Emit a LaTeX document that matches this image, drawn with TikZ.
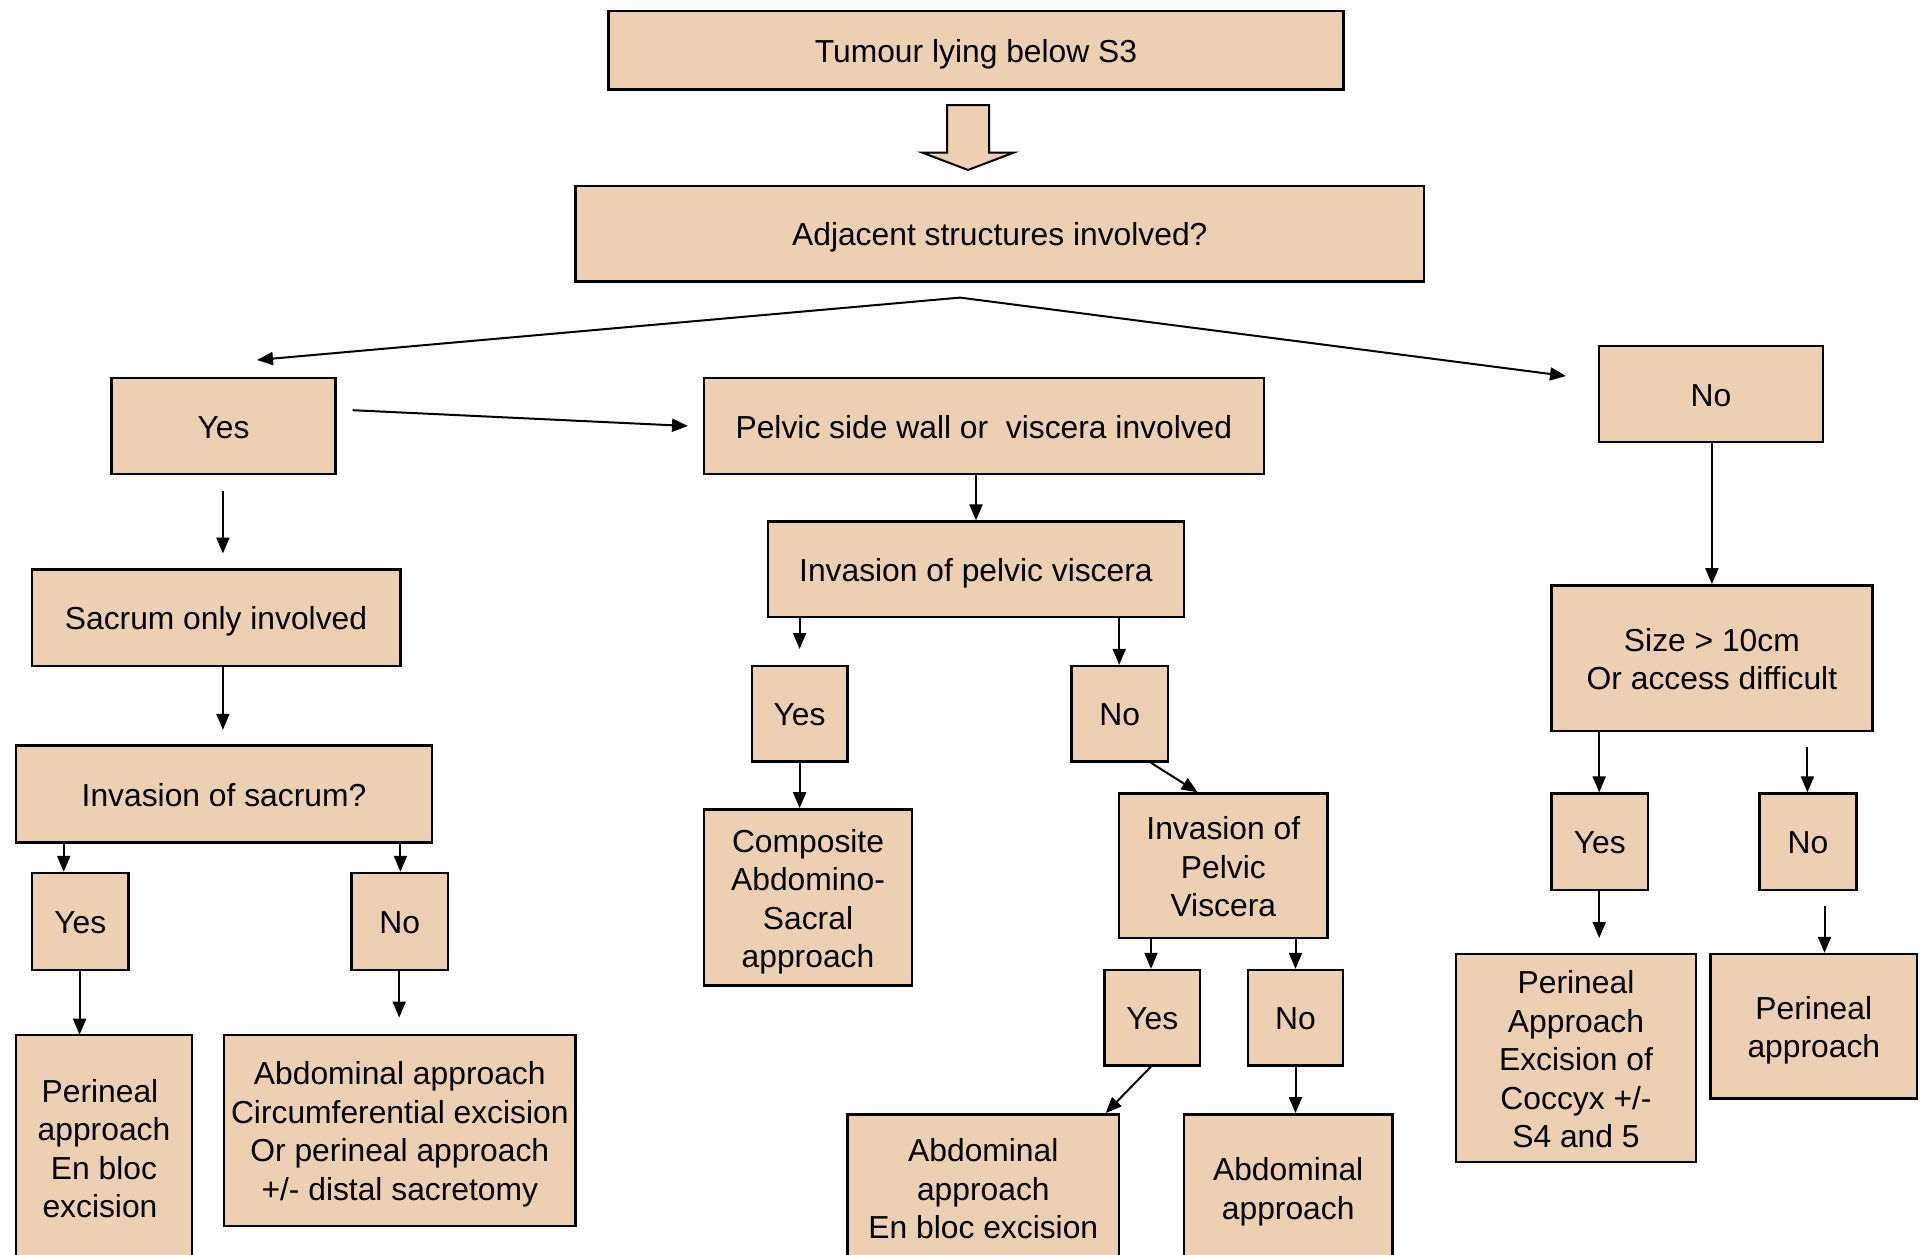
\documentclass[tikz,border=0pt]{standalone}
\usepackage{fontspec}
\setmainfont{Liberation Sans}
\usetikzlibrary{arrows.meta,calc}
\definecolor{boxfill}{RGB}{237,208,177}
\newcommand\mytopstrut{\rule{0pt}{32pt}}
\newcommand\mybotstrut{\rule[-7pt]{0pt}{7pt}}
\begin{document}
\begin{tikzpicture}[x=1pt,y=-1pt,
  box/.style={draw=black,line width=2.4pt,fill=boxfill,inner sep=0pt,align=center,
    font=\fontsize{31.8}{38.5}\selectfont,
    execute at begin node={\rule{0pt}{31pt}},
    execute at end node={\rule[-7pt]{0pt}{7pt}}},
  mbox/.style={draw=black,line width=2.4pt,fill=boxfill,inner sep=0pt,align=center,
    font=\fontsize{31.8}{38.5}\selectfont},
  arr/.style={line width=2pt,-{Triangle[length=16pt,width=13pt]}}]
\useasboundingbox (0,0) rectangle (1920,1255);
% boxes
\node[box,minimum width=734.7pt,minimum height=78.4pt] (top) at (976,50.2) {Tumour lying below S3};
\node[box,minimum width=848.5pt,minimum height=95.6pt] (adj) at (999.8,233.8) {Adjacent structures involved?};
\node[box,minimum width=224pt,minimum height=95.5pt] (yes1) at (223.5,426) {Yes};
\node[box,minimum width=559.7pt,minimum height=95.5pt] (pelvic) at (983.9,426) {Pelvic side wall or\ \ viscera involved};
\node[box,minimum width=224pt,minimum height=95.5pt] (no1) at (1711,394) {No};
\node[box,minimum width=368.6pt,minimum height=96.6pt] (sacrum) at (216,617.7) {Sacrum only involved};
\node[box,minimum width=416.4pt,minimum height=96.8pt] (invsac) at (224,794) {Invasion of sacrum?};
\node[box,minimum width=96.8pt,minimum height=96.8pt] (yes2) at (80.2,921.4) {Yes};
\node[box,minimum width=96.8pt,minimum height=96.8pt] (no2) at (399.8,921.4) {No};
\node[mbox,minimum width=176.3pt,minimum height=225.4pt] (perbloc) at (104,1147.4) {\mytopstrut Perineal\hspace*{8pt}\\approach\hspace*{8pt}\\En bloc\hspace*{8pt}\\excision\hspace*{8pt}\mybotstrut};
\node[mbox,minimum width=351.5pt,minimum height=191pt] (abdcirc) at (399.8,1130.2) {\mytopstrut Abdominal approach\\Circumferential excision\\Or perineal approach\\+/- distal sacretomy\mybotstrut};
\node[box,minimum width=416.2pt,minimum height=95.6pt] (invpv) at (975.9,569.4) {Invasion of pelvic viscera};
\node[box,minimum width=95.6pt,minimum height=95.6pt] (yes3) at (799.6,713.8) {Yes};
\node[box,minimum width=96.8pt,minimum height=95.6pt] (no3) at (1119.8,713.8) {No};
\node[mbox,minimum width=208.3pt,minimum height=176.3pt] (comp) at (808,897.5) {\mytopstrut Composite\\Abdomino-\\Sacral\\approach\mybotstrut};
\node[mbox,minimum width=208.2pt,minimum height=144.5pt] (invpv2) at (1223.3,865.7) {\mytopstrut Invasion of\\Pelvic\\Viscera\mybotstrut};
\node[box,minimum width=95.5pt,minimum height=95.3pt] (yes4) at (1152.3,1017.7) {Yes};
\node[box,minimum width=95.5pt,minimum height=95.3pt] (no4) at (1295.5,1017.7) {No};
\node[mbox,minimum width=271.8pt,minimum height=147pt] (abdbloc) at (983.3,1187.8) {\mytopstrut Abdominal\\approach\\En bloc excision\mybotstrut};
\node[mbox,minimum width=208.3pt,minimum height=146pt] (abd) at (1288.2,1187.3) {\mytopstrut Abdominal\\approach\mybotstrut};
\node[mbox,minimum width=320.9pt,minimum height=145.7pt] (size) at (1711.9,658.2) {\mytopstrut Size > 10cm\\Or access difficult\mybotstrut};
\node[box,minimum width=96.8pt,minimum height=96.7pt] (yes5) at (1599.8,841.9) {Yes};
\node[box,minimum width=96.7pt,minimum height=96.7pt] (no5) at (1808,841.9) {No};
\node[mbox,minimum width=240pt,minimum height=208pt] (perexc) at (1576,1058) {\mytopstrut Perineal\\Approach\\Excision of\\Coccyx +/-\\S4 and 5\mybotstrut};
\node[mbox,minimum width=206.4pt,minimum height=144.4pt] (perapp) at (1813.8,1026.2) {\mytopstrut Perineal\\approach\mybotstrut};
% block arrow
\draw[line width=2pt,fill=boxfill,line join=miter]
  (947,105) -- (989,105) -- (989,152.5) -- (1014,152.5) -- (968,170) -- (922,152.5) -- (947,152.5) -- cycle;
% free-end coordinates
\coordinate (br) at (960,297.6);
\coordinate (brL) at (257,360);
\coordinate (brR) at (1566,376);
\coordinate (ypA) at (352.7,410.2);
\coordinate (ypB) at (688,426);
\coordinate (ysA) at (222.9,491);
\coordinate (ysB) at (222.9,553.5);
\coordinate (siB) at (222.9,729.8);
\coordinate (y2B) at (79.6,1034.7);
\coordinate (n2B) at (399.2,1017.6);
\coordinate (y3B) at (799.6,649);
\coordinate (n5A) at (1807.4,747);
\coordinate (y5B) at (1599.2,938);
\coordinate (n5bA) at (1824.5,906);
% connectors
\draw[arr] (br) -- (brL);
\draw[arr] (br) -- (brR);
\draw[arr] (ypA) -- (ypB);
\draw[arr] (ysA) -- (ysB);
\draw[arr] (sacrum.south -| siB) -- (siB);
\draw[arr] (invsac.south -| 63.7,0) -- (yes2.north -| 63.7,0);
\draw[arr] (invsac.south -| 400.4,0) -- (no2.north -| 400.4,0);
\draw[arr] (yes2.south -| y2B) -- (y2B);
\draw[arr] (no2.south -| n2B) -- (n2B);
\draw[arr] (pelvic.south -| 976,0) -- (invpv.north -| 976,0);
\draw[arr] (invpv.south -| y3B) -- (y3B);
\draw[arr] (invpv.south -| 1119.2,0) -- (no3.north -| 1119.2,0);
\draw[arr] (yes3.south) -- (comp.north -| yes3.south);
\draw[arr] (no3.south -| 1151,0) -- (invpv2.north -| 1197.6,0);
\draw[arr] (invpv2.south -| 1151,0) -- (yes4.north -| 1151,0);
\draw[arr] (invpv2.south -| 1295.5,0) -- (no4.north -| 1295.5,0);
\draw[arr] (yes4.south -| 1151,0) -- (abdbloc.north -| 1105.7,0);
\draw[arr] (no4.south) -- (abd.north -| no4.south);
\draw[arr] (no1.south -| 1711.9,0) -- (size.north -| 1711.9,0);
\draw[arr] (size.south -| 1599.2,0) -- (yes5.north -| 1599.2,0);
\draw[arr] (n5A) -- (no5.north -| n5A);
\draw[arr] (yes5.south -| y5B) -- (y5B);
\draw[arr] (n5bA) -- (perapp.north -| n5bA);
\end{tikzpicture}
\end{document}
